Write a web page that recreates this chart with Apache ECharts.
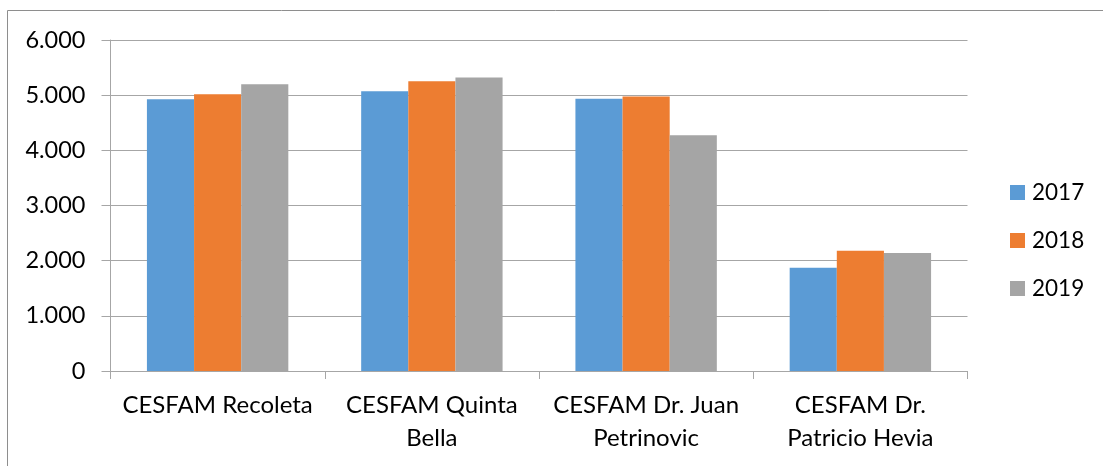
<!DOCTYPE html>
<html><head><meta charset="utf-8">
<script src="https://cdn.jsdelivr.net/npm/echarts@6/dist/echarts.min.js"></script>
<style>html,body{margin:0;padding:0;background:#fff}#c{width:1103px;height:466px}</style>
</head><body><div id="c"></div>
<script>
const categories = ["CESFAM Recoleta", "CESFAM Quinta\nBella", "CESFAM Dr. Juan\nPetrinovic", "CESFAM Dr.\nPatricio Hevia"];
const seriesNames = ["2017", "2018", "2019"];
const values2017 = [4928, 5072, 4933, 1871];
const values2018 = [5018, 5254, 4976, 2179];
const values2019 = [5199, 5321, 4275, 2138];
const colors = ["#5B9BD5", "#ED7D31", "#A5A5A5"];

const chart = echarts.init(document.getElementById('c'));
const font = "Lato, 'Liberation Sans', Arial, sans-serif";
const fmt = v => String(v).replace(/\B(?=(\d{3})+(?!\d))/g, '.');
chart.setOption({
  animation: false,
  color: colors,
  graphic: [{type: 'rect', shape: {x: 7.5, y: 10.5, width: 1200, height: 600}, style: {fill: 'none', stroke: '#8E8E8E', lineWidth: 1}, silent: true}],
  grid: {left: 110.5, right: 135.5, top: 40, bottom: 95},
  legend: {
    orient: 'vertical', left: 1010, top: 180.5, padding: 0,
    itemWidth: 15, itemHeight: 15, itemGap: 24,
    icon: 'rect',
    textStyle: {fontFamily: font, fontSize: 22.5, color: '#000', lineHeight: 24, padding: [0, 0, 0, 2]},
    data: seriesNames
  },
  xAxis: {
    type: 'category', data: categories,
    axisLine: {lineStyle: {color: '#A6A6A6', width: 1}},
    axisTick: {show: true, length: 8, lineStyle: {color: '#A6A6A6'}},
    axisLabel: {fontFamily: font, fontSize: 24, color: '#000', lineHeight: 33, margin: 18, interval: 0}
  },
  yAxis: {
    type: 'value', min: 0, max: 6000, interval: 1000,
    axisLine: {show: true, lineStyle: {color: '#A6A6A6', width: 1}},
    axisTick: {show: true, length: 9, lineStyle: {color: '#A6A6A6'}},
    splitLine: {lineStyle: {color: '#A6A6A6', width: 1}},
    axisLabel: {fontFamily: font, fontSize: 23.5, color: '#000', margin: 25, formatter: fmt}
  },
  series: [
    {name: seriesNames[0], type: 'bar', data: values2017, barGap: '0%', barCategoryGap: '34%'},
    {name: seriesNames[1], type: 'bar', data: values2018, barGap: '0%', barCategoryGap: '34%'},
    {name: seriesNames[2], type: 'bar', data: values2019, barGap: '0%', barCategoryGap: '34%'}
  ]
});
</script></body></html>
